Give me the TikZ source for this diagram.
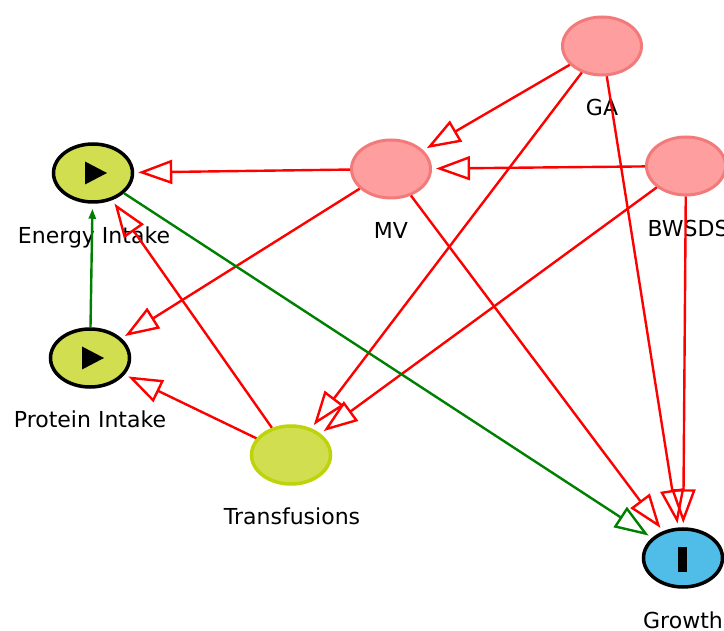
\documentclass[tikz,border=0pt]{standalone}
\usepackage{fontspec}
\setmainfont{DejaVu Sans}
\usetikzlibrary{positioning,calc}
\usetikzlibrary{arrows.meta,shapes.geometric}
\definecolor{DagRed}{RGB}{255,0,0}
\definecolor{DagGreen}{RGB}{0,128,0}
\definecolor{PinkFill}{RGB}{255,158,158}
\definecolor{PinkLine}{RGB}{242,122,122}
\definecolor{LimeFill}{RGB}{208,222,80}
\definecolor{LimeLine}{RGB}{190,212,10}
\definecolor{SkyFill}{RGB}{80,188,232}
\tikzset{
  var/.style={ellipse,minimum width=79pt,minimum height=58pt,inner sep=0pt},
  adj/.style={var,draw=PinkLine,fill=PinkFill,line width=3pt},
  expo/.style={var,draw=black,fill=LimeFill,line width=3.5pt},
  anc/.style={var,draw=LimeLine,fill=LimeFill,line width=3.5pt},
  outc/.style={var,draw=black,fill=SkyFill,line width=3.5pt},
  lbl/.style={anchor=base,inner sep=0pt,font=\fontsize{22}{26}\selectfont},
}
\tikzset{biasing/.style={draw=DagRed,line width=2.4pt,-{Triangle[open,length=34pt,width=24pt]},shorten >=4pt}, causal/.style={draw=DagGreen,line width=2.4pt,-{Triangle[open,length=34pt,width=24pt]},shorten >=4pt},small/.style={draw=DagGreen,line width=2.4pt,-{Triangle[length=10pt,width=7pt]},shorten >=5pt}}

\begin{document}
\begin{tikzpicture}[x=1pt,y=-1pt]
\useasboundingbox (0,0) rectangle (724,631);
\node[expo] (ei) at (93,173) {};
\node[expo] (pi) at (90,358) {};
\node[anc] (tr) at (291,455) {};
\node[adj] (mv) at (391,169) {};
\node[adj] (ga) at (602,46) {};
\node[adj] (bw) at (686,166) {};
\node[outc] (gr) at (683,558) {};
\fill[shift={(ei)}] (-8,-11.5) -- (14,0) -- (-8,11.5) -- cycle;
\fill[shift={(pi)}] (-8,-11.5) -- (14,0) -- (-8,11.5) -- cycle;
\fill[shift={(gr)}] (-5,-11) rectangle (4,14);
\node[lbl] (eiL) at ($(ei)+(1,71)$) {Energy Intake};
\node[lbl] (piL) at ($(pi)+(0,70)$) {Protein Intake};
\node[lbl] (trL) at ($(tr)+(1,69)$) {Transfusions};
\node[lbl] (mvL) at ($(mv)+(0,70)$) {MV};
\node[lbl] (gaL) at ($(ga)+(0,70)$) {GA};
\node[lbl] (bwL) at ($(bw)+(2,71)$) {BWSDS};
\node[lbl] (grL) at ($(gr)+(0,70)$) {Growth};
\draw[biasing] (ga) -- (mv);
\draw[biasing] (ga) -- (tr);
\draw[biasing] (ga) -- (gr);
\draw[biasing] (bw) -- (mv);
\draw[biasing] (bw) -- (tr);
\draw[biasing] (bw) -- (gr);
\draw[biasing] (mv) -- (ei);
\draw[biasing] (mv) -- (pi);
\draw[biasing] (mv) -- (gr);
\draw[biasing] (tr) -- (ei);
\draw[biasing] (tr) -- (pi);
\draw[causal] (ei) -- (gr);
\draw[small] (pi) -- (ei);
\end{tikzpicture}
\end{document}
